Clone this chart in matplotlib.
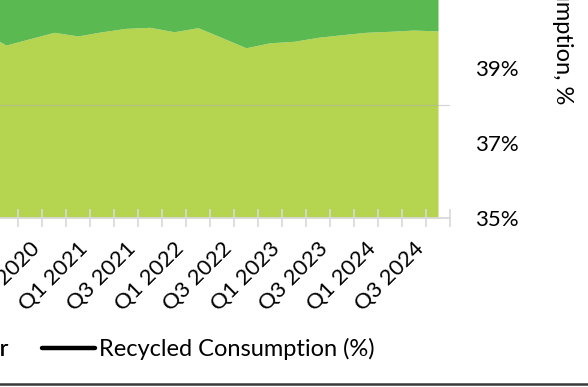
import matplotlib
matplotlib.use("Agg")
import matplotlib.pyplot as plt
from matplotlib.lines import Line2D
from matplotlib.patches import Patch
from matplotlib.ticker import FuncFormatter

plt.rcParams['font.family'] = ['Lato', 'DejaVu Sans']

quarters = ['Q1 2020', 'Q2 2020', 'Q3 2020', 'Q4 2020',
            'Q1 2021', 'Q2 2021', 'Q3 2021', 'Q4 2021',
            'Q1 2022', 'Q2 2022', 'Q3 2022', 'Q4 2022',
            'Q1 2023', 'Q2 2023', 'Q3 2023', 'Q4 2023',
            'Q1 2024', 'Q2 2024', 'Q3 2024', 'Q4 2024']
recycled = [16.4, 15.24, 15.80, 16.36, 16.04, 16.41, 16.71, 16.80, 16.41, 16.77,
            15.89, 15.00, 15.44, 15.57, 15.92, 16.15, 16.36, 16.45, 16.56, 16.48]
virgin = [9.6, 9.8, 9.5, 9.7, 9.9, 9.6, 9.4, 9.5, 9.8, 9.6,
          9.9, 10.2, 10.0, 9.8, 9.7, 9.6, 9.5, 9.6, 9.4, 9.5]
right_ticks = [35, 37, 39]

C_LIGHT = '#B5D44F'
C_DARK = '#5BB951'
C_AXIS = '#D9D9D9'
FS = 16
FS_LEG = 17

W, H = 588, 387
fig = plt.figure(figsize=(W / 100, H / 100), dpi=100)
# axes extends beyond the crop (left and top)
ax_left_px, ax_right_px = -30, 450
ax_top_px, ax_bot_px = -157, 218
ax = fig.add_axes([ax_left_px / W, (H - ax_bot_px) / H,
                   (ax_right_px - ax_left_px) / W, (ax_bot_px - ax_top_px) / H])

x = list(range(len(quarters)))
total = [r + v for r, v in zip(recycled, virgin)]
ax.fill_between(x, 0, recycled, color=C_LIGHT, lw=0, zorder=1)
ax.fill_between(x, recycled, total, color=C_DARK, lw=0, zorder=1)

ax.set_xlim(-0.5, len(quarters) - 0.5)
ax.set_ylim(0, 375 / 11.35)
ax.set_yticks([0, 10, 20, 30])
ax.yaxis.grid(True, color='#B0B0B0', alpha=0.55, lw=0.8)
ax.tick_params(axis='y', left=False, labelleft=False)
for s in ['top', 'right', 'left']:
    ax.spines[s].set_visible(False)
ax.spines['bottom'].set_color(C_AXIS)
ax.spines['bottom'].set_linewidth(1.3)

ax.set_xticks([i - 0.5 for i in range(len(quarters) + 1)])
ax.set_xticklabels([])
ax.tick_params(axis='x', which='major', direction='inout', length=13, width=1.2, color=C_AXIS)
ax.set_xticks(x, minor=True)
ax.set_xticklabels([q if i % 2 == 0 else '' for i, q in enumerate(quarters)], minor=True)
ax.tick_params(axis='x', which='minor', length=0, pad=15, labelsize=FS)
for lbl in ax.get_xticklabels(minor=True):
    lbl.set_rotation(45)
    lbl.set_ha('right')
    lbl.set_rotation_mode('anchor')

ax2 = ax.twinx()
ax2.set_ylim(35, 45)
ax2.set_yticks(right_ticks)
ax2.yaxis.set_major_formatter(FuncFormatter(lambda v, p: f'{v:.0f}%'))
ax2.tick_params(axis='y', length=0, pad=18, labelsize=FS)
for s in ax2.spines.values():
    s.set_visible(False)
ax2.set_ylabel('Recycled Consumption, %', fontsize=FS_LEG)
ax2.yaxis.label.set_rotation(-90)
ax2.yaxis.label.set_rotation_mode('default')
ax2.yaxis.label.set_ha('center')
ax2.yaxis.label.set_va('bottom')
ax2.yaxis.set_label_coords((563 - ax_left_px) / (ax_right_px - ax_left_px),
                           (ax_bot_px - 104) / (ax_bot_px - ax_top_px))

fs_px = FS_LEG * 100 / 72
leg_y = (H - 349) / H
leg1 = fig.legend(handles=[Patch(color=C_LIGHT, label='Recycled Polymer'),
                           Patch(color=C_DARK, label='Virgin Polymer')],
                  loc='center right', bbox_to_anchor=(8 / W, leg_y), ncol=2,
                  frameon=False, fontsize=FS_LEG, borderpad=0, borderaxespad=0)
fig.legend(handles=[Line2D([], [], color='black', lw=3.2, solid_capstyle='round',
                           label='Recycled Consumption (%)')],
           loc='center left', bbox_to_anchor=(42 / W, leg_y), frameon=False,
           fontsize=FS_LEG, borderpad=0, borderaxespad=0,
           handlelength=53 / fs_px, handletextpad=4 / fs_px)
fig.add_artist(leg1)

fig.add_artist(Line2D([0, 1], [(H - 383.5) / H] * 2, color='#3A3A3A', lw=1.8,
                      transform=fig.transFigure))

fig.savefig('out.png', dpi=100)
